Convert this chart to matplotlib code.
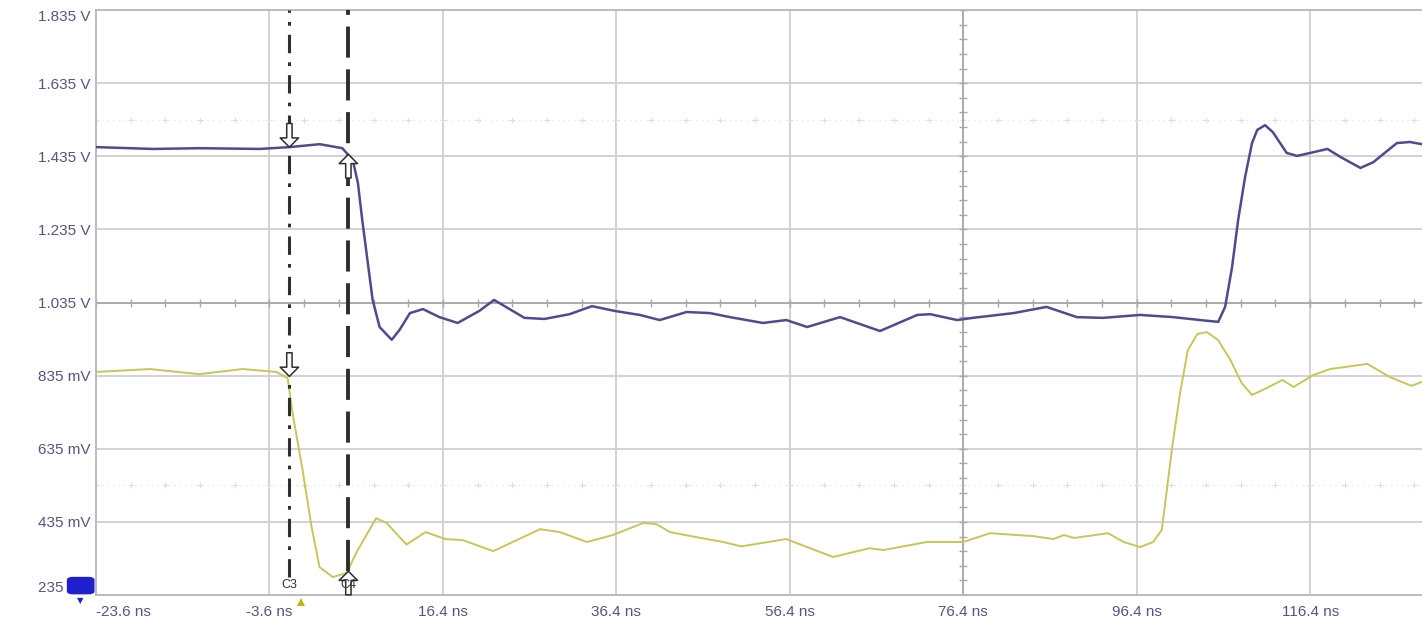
import numpy as np
import matplotlib
matplotlib.use("Agg")
import matplotlib.pyplot as plt
import matplotlib.transforms as mtransforms
from matplotlib.patches import FancyBboxPatch
from matplotlib.ticker import FixedLocator

# ---- acquired waveforms (time in ns, amplitude in V) ----
blue_t = [-23.6, -17.0, -11.7, -4.7, -1.3, 2.2, 4.8, 6.0, 6.6, 7.1, 7.7, 8.3,
          9.1, 10.5, 11.4, 12.6, 14.1, 16.0, 18.1, 20.6, 22.3, 24.3, 25.8, 28.1,
          31.0, 33.6, 36.2, 39.1, 41.4, 44.5, 47.2, 49.5, 53.3, 56.0, 58.4, 62.2,
          66.8, 71.1, 72.6, 75.7, 77.5, 82.2, 86.0, 89.5, 92.5, 96.8, 100.6,
          103.7, 105.8, 106.6, 107.4, 108.1, 108.9, 109.7, 110.3, 111.2, 112.1,
          113.7, 114.9, 116.4, 118.4, 119.9, 122.2, 123.7, 126.4, 127.9, 129.3]
blue_v = [1.460, 1.455, 1.457, 1.455, 1.460, 1.468, 1.457, 1.425, 1.362, 1.261,
          1.151, 1.042, 0.968, 0.933, 0.960, 1.006, 1.017, 0.995, 0.979, 1.012,
          1.042, 1.014, 0.993, 0.990, 1.003, 1.025, 1.012, 1.001, 0.987, 1.009,
          1.006, 0.995, 0.979, 0.987, 0.968, 0.995, 0.957, 1.001, 1.003, 0.987,
          0.993, 1.006, 1.023, 0.995, 0.993, 1.001, 0.995, 0.987, 0.982, 1.023,
          1.132, 1.261, 1.378, 1.471, 1.507, 1.520, 1.501, 1.444, 1.436, 1.444,
          1.455, 1.433, 1.403, 1.419, 1.471, 1.474, 1.468]

yellow_t = [-23.6, -17.4, -11.7, -6.7, -2.8, -1.5, -0.94, 0.22, 1.26, 2.18, 3.7,
            5.3, 6.4, 8.7, 9.9, 12.2, 14.4, 16.7, 18.7, 22.2, 24.9, 27.6, 29.9,
            33.0, 36.0, 39.5, 41.0, 42.6, 45.7, 48.7, 50.8, 56.0, 58.4, 61.4,
            65.6, 67.2, 72.2, 76.4, 79.5, 84.5, 86.8, 88.0, 89.2, 93.1, 94.9,
            96.8, 98.3, 99.3, 100.5, 101.4, 102.3, 103.4, 104.5, 105.8, 107.2,
            108.5, 109.7, 111.4, 113.2, 114.5, 116.8, 118.7, 123.0, 125.6, 128.1,
            129.3]
yellow_v = [0.845, 0.853, 0.839, 0.853, 0.845, 0.828, 0.733, 0.577, 0.421, 0.311,
            0.284, 0.295, 0.350, 0.445, 0.432, 0.373, 0.407, 0.388, 0.385, 0.355,
            0.385, 0.415, 0.407, 0.380, 0.399, 0.432, 0.429, 0.407, 0.393, 0.380,
            0.368, 0.388, 0.366, 0.339, 0.363, 0.358, 0.380, 0.380, 0.404, 0.396,
            0.388, 0.399, 0.391, 0.404, 0.380, 0.366, 0.380, 0.413, 0.640, 0.787,
            0.905, 0.949, 0.954, 0.932, 0.878, 0.815, 0.782, 0.801, 0.823, 0.804,
            0.837, 0.853, 0.867, 0.831, 0.807, 0.818]

# ---- scale / labels ----
x_ticks = [-23.6, -3.6, 16.4, 36.4, 56.4, 76.4, 96.4, 116.4]
x_labels = ["-23.6 ns", "-3.6 ns", "16.4 ns", "36.4 ns", "56.4 ns", "76.4 ns",
            "96.4 ns", "116.4 ns"]
y_ticks = [0.235, 0.435, 0.635, 0.835, 1.035, 1.235, 1.435, 1.635, 1.835]
y_labels = ["235 mV", "435 mV", "635 mV", "835 mV", "1.035 V", "1.235 V",
            "1.435 V", "1.635 V", "1.835 V"]
x_range = (-23.6, 129.3)
center_t = 76.4
center_v = 1.035
level_lines = [1.535, 0.535]

# cursors and their marks on each trace
cursor_c3 = -1.3
cursor_c4 = 5.5
c3_marks = [(1.460, "down"), (0.833, "down")]
c4_marks = [(1.440, "up"), (0.300, "up")]
trigger_t = 0.0

BLUE = "#4c4c8e"
YELLOW = "#c6c65a"
GRID = "#cfcfcf"
LABEL = "#55557f"
CURSOR = "#2e2e2e"

plt.rcParams["font.family"] = ["Liberation Sans", "DejaVu Sans"]

fig = plt.figure(figsize=(14.22, 6.21), dpi=100)
ax = fig.add_axes([96 / 1422, 26 / 621, 1 - 96 / 1422, 585 / 621])
ax.set_xlim(*x_range)
ax.set_ylim(y_ticks[0], y_ticks[-1])

# grid
for t in x_ticks[1:]:
    ax.axvline(t, color=GRID, lw=1.3, zorder=1)
for v in y_ticks[1:-1]:
    ax.axhline(v, color=GRID, lw=1.3, zorder=1)

# centre crosshair with minor division ticks
ax.axvline(center_t, color="#a8a8a8", lw=1.3, zorder=1.2)
ax.axhline(center_v, color="#a8a8a8", lw=1.3, zorder=1.2)
minor_t = np.arange(x_ticks[0], x_range[1], 4.0)
minor_v = np.arange(y_ticks[0], y_ticks[-1] + 1e-9, 0.04)
ax.plot(minor_t, np.full_like(minor_t, center_v), ls="none", marker="|",
        ms=6, mew=1.0, color="#a8a8a8", zorder=1.3)
ax.plot(np.full_like(minor_v, center_t), minor_v, ls="none", marker="_",
        ms=6, mew=1.0, color="#a8a8a8", zorder=1.3)

# faint level rows
for v in level_lines:
    ax.axhline(v, color="#e8e8e8", lw=1.0, ls=(0, (1, 3)), zorder=1)
    ax.plot(minor_t, np.full_like(minor_t, v), ls="none", marker="+", ms=5,
            mew=0.8, color="#dedede", zorder=1.1)

# traces
ax.plot(yellow_t, yellow_v, color=YELLOW, lw=1.4, zorder=3,
        solid_joinstyle="round")
ax.plot(blue_t, blue_v, color=BLUE, lw=1.8, zorder=3, solid_joinstyle="round")

# cursors
ax.plot([cursor_c3, cursor_c3], [0.283, y_ticks[-1]], color=CURSOR, lw=2.2,
        ls=(0, (6, 3, 1.2, 3)), zorder=4)
ax.plot([cursor_c4, cursor_c4], [0.300, y_ticks[-1]], color=CURSOR, lw=2.8,
        ls=(0, (8, 3)), zorder=4)


def cursor_arrow(t, v, direction):
    off = 17 if direction == "down" else -17
    ax.annotate("", xy=(t, v), xytext=(0, off), textcoords="offset points",
                arrowprops=dict(arrowstyle="simple,head_length=0.6,"
                                           "head_width=1.2,tail_width=0.35",
                                mutation_scale=11, fc="white", ec=CURSOR,
                                lw=1.1, shrinkA=0, shrinkB=0), zorder=5)


for v, d in c3_marks:
    cursor_arrow(cursor_c3, v, d)
for v, d in c4_marks:
    cursor_arrow(cursor_c4, v, d)

ax.text(cursor_c3, 0.262, "C3", ha="center", va="center", fontsize=9,
        color=CURSOR, zorder=6)
ax.text(cursor_c4, 0.262, "C4", ha="center", va="center", fontsize=9,
        color=CURSOR, zorder=6)

# frame
for side in ("left", "bottom", "top"):
    ax.spines[side].set_color("#b5b5b5")
    ax.spines[side].set_linewidth(1.3)
ax.spines["right"].set_visible(False)

ax.xaxis.set_major_locator(FixedLocator(x_ticks))
ax.yaxis.set_major_locator(FixedLocator(y_ticks))
ax.set_xticklabels(x_labels)
ax.set_yticklabels(y_labels)
ax.tick_params(length=0, labelsize=11, labelcolor=LABEL)
ax.tick_params(axis="y", pad=4)
ax.tick_params(axis="x", pad=7)
for lbl in ax.get_xticklabels():
    lbl.set_ha("center")
ax.get_xticklabels()[0].set_ha("left")
ax.get_yticklabels()[-1].set_va("top")
ax.get_yticklabels()[0].set_va("bottom")

# trigger position marker just under the time axis
trig_shift = mtransforms.ScaledTranslation(0, -5 / 72, fig.dpi_scale_trans)
ax.plot([trigger_t], [y_ticks[0]], marker="^", ms=6, color="#b8b800",
        clip_on=False, zorder=6, markeredgewidth=0,
        transform=ax.transData + trig_shift)

# ground reference tag on the left edge
tag = FancyBboxPatch((0.0495, 0.046), 0.0145, 0.022,
                     boxstyle="round,pad=0.002,rounding_size=0.004",
                     transform=fig.transFigure, fc="#1f1fd0", ec="#1f1fd0",
                     zorder=10)
fig.patches.append(tag)
fig.text(0.0565, 0.033, "\u25bc", fontsize=6, color="#1f1fd0",
         ha="center", va="center", family="DejaVu Sans")

fig.savefig("out.png", dpi=100, facecolor="white")
